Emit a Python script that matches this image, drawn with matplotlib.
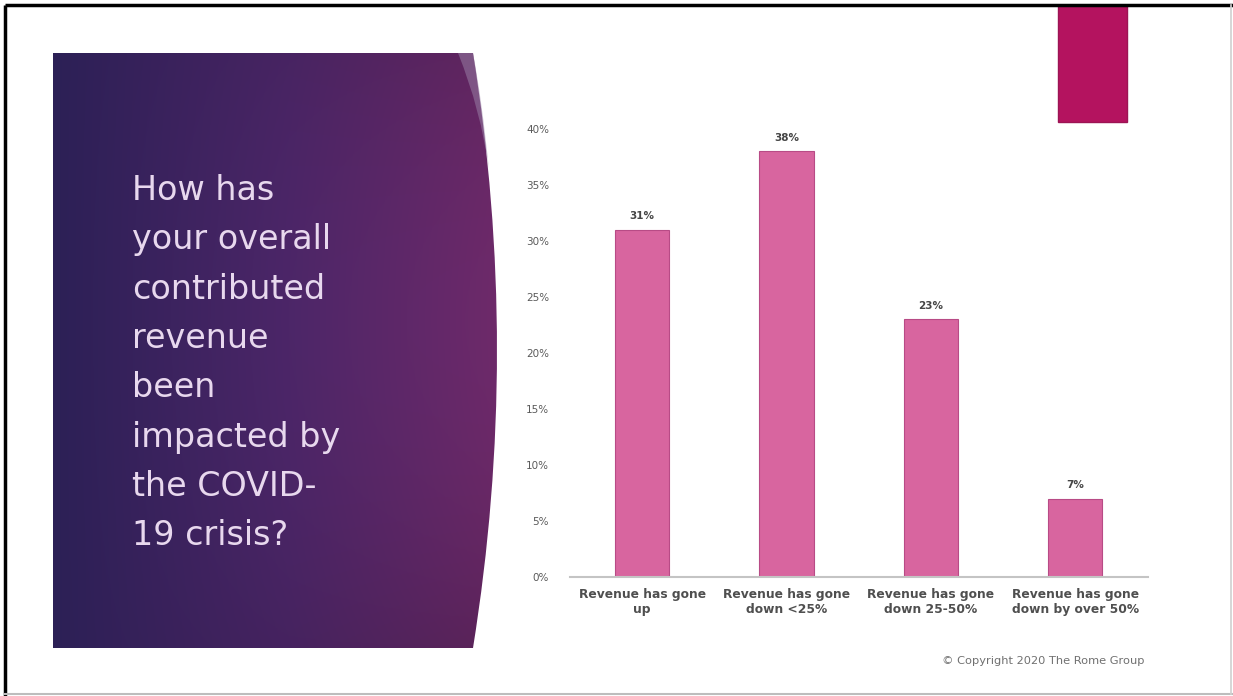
import numpy as np
import matplotlib
matplotlib.use("Agg")
import matplotlib.pyplot as plt
from matplotlib.path import Path
from matplotlib.patches import PathPatch, Rectangle

# ---- data ----
categories = ["Revenue has gone\nup", "Revenue has gone\ndown <25%",
              "Revenue has gone\ndown 25-50%", "Revenue has gone\ndown by over 50%"]
values = [31, 38, 23, 7]
y_ticks = [0, 5, 10, 15, 20, 25, 30, 35, 40]
title_lines = ["How has", "your overall", "contributed", "revenue", "been",
               "impacted by", "the COVID-", "19 crisis?"]
copyright_text = "\u00a9 Copyright 2020 The Rome Group"

W, H = 1233, 696
fig = plt.figure(figsize=(W / 100, H / 100), dpi=100)
fig.patch.set_facecolor("white")

# ---- slide background layer in pixel coordinates ----
bg = fig.add_axes([0, 0, 1, 1])
bg.set_xlim(0, W)
bg.set_ylim(H, 0)
bg.axis("off")

# purple panel with a bulging right edge
x0, y0, y1, xr = 53, 53, 648, 473
verts = [(x0, y0), (xr, y0), (521, 350), (xr, y1), (x0, y1), (x0, y0)]
codes = [Path.MOVETO, Path.LINETO, Path.CURVE3, Path.CURVE3, Path.LINETO, Path.CLOSEPOLY]
panel_path = Path(verts, codes)
panel = PathPatch(panel_path, facecolor="none", edgecolor="none")
bg.add_patch(panel)

gx = np.linspace(0, 1, 300)
gy = np.linspace(0, 1, 300)
GX, GY = np.meshgrid(gx, gy)
left_c = np.array([44, 32, 86]) / 255
mid_c = np.array([76, 38, 104]) / 255
right_c = np.array([114, 42, 106]) / 255
t = GX
img = np.where(
    (t < 0.5)[..., None],
    left_c * (1 - 2 * t[..., None]) + mid_c * (2 * t[..., None]),
    mid_c * (2 - 2 * t[..., None]) + right_c * (2 * t[..., None] - 1),
)
# slightly darker towards top and bottom on the right side
shade = 1 - 0.14 * ((GY - 0.45) ** 2) * 4 * GX
img = np.clip(img * shade[..., None], 0, 1)
im = bg.imshow(img, extent=(x0, 525, y1, y0), origin="upper", aspect="auto", zorder=1)
im.set_clip_path(panel)

# light sheen on the upper right curve
sheen = Path([(458, 53), (473, 53), (482, 100), (489, 170), (481, 110), (458, 53)],
             [Path.MOVETO, Path.LINETO, Path.CURVE3, Path.CURVE3, Path.CURVE3, Path.CURVE3])
bg.add_patch(PathPatch(sheen, facecolor="#9C86AA", edgecolor="none", alpha=0.5, zorder=2))

# title lines
base0, step = 200, 49.3
for i, line in enumerate(title_lines):
    bg.text(132, base0 + i * step, line, fontsize=24, color="#E8D8EE",
            family="DejaVu Sans", va="baseline", ha="left", zorder=3)

# magenta accent block at the top
bg.add_patch(Rectangle((1058, 5), 69, 117, facecolor="#B4135F",
                       edgecolor="#9C1454", linewidth=1, zorder=2))

# frame lines
bg.plot([5, W], [5, 5], color="black", lw=2.5, zorder=4, solid_capstyle="butt")
bg.plot([5, 5], [5, H], color="black", lw=2.5, zorder=4, solid_capstyle="butt")
bg.plot([5, W], [694, 694], color="#BDBDBD", lw=1.5, zorder=4)
bg.plot([1231, 1231], [5, 694], color="#D0D0D0", lw=1.2, zorder=4)

# copyright
bg.text(1145, 661, copyright_text, fontsize=8.2, color="#707070",
        ha="right", va="center", zorder=3)

# ---- bar chart ----
ax = fig.add_axes([570 / W, (H - 577) / H, 577.5 / W, 448 / H])
ax.set_facecolor("none")
x = np.arange(len(categories))
ax.bar(x, values, width=0.375, color="#D8659F", edgecolor="#B84B86", linewidth=0.8)
ax.set_xlim(-0.5, len(categories) - 0.5)
ax.set_ylim(0, 40)
ax.set_yticks(y_ticks)
ax.set_yticklabels([f"{v}%" for v in y_ticks], fontsize=7.5, color="#5A5A5A")
ax.set_xticks(x)
ax.set_xticklabels(categories, fontsize=8.8, color="#4F4F4F", fontweight="bold",
                   linespacing=1.15)
ax.tick_params(axis="y", length=0, pad=15)
ax.tick_params(axis="x", length=0, pad=8)
for s in ("top", "right", "left"):
    ax.spines[s].set_visible(False)
ax.spines["bottom"].set_color("#C4C4C4")
ax.spines["bottom"].set_linewidth(1.5)

for xi, v in zip(x, values):
    ax.annotate(f"{v}%", (xi, v), xytext=(0, 10), textcoords="offset points",
                ha="center", va="center", fontsize=7.5, fontweight="bold",
                color="#454545", annotation_clip=False)

fig.savefig("out.png", dpi=100, facecolor="white")
